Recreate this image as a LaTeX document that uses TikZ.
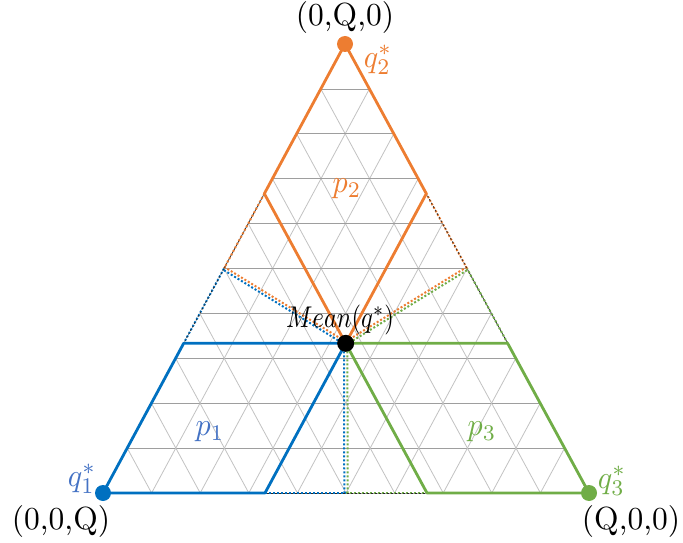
\documentclass[tikz,border=0pt]{standalone}
\usetikzlibrary{calc}
\definecolor{cor}{HTML}{ED7D31}
\definecolor{cbl}{HTML}{0070C0}
\definecolor{cbt}{HTML}{4472C4}
\definecolor{cgr}{HTML}{70AD47}
\tikzset{
  gridline/.style={draw=black!24, line width=0.8pt},
  hgridline/.style={draw=black!38, line width=0.8pt},
  region/.style={line width=2.8pt, line join=round},
  dotline/.style={line width=2pt, dash pattern=on 2pt off 2pt},
  edgedash/.style={draw=black!85, line width=0.7pt, dash pattern=on 2pt off 2pt, dash phase=2pt},
  vdot/.style={circle, inner sep=0pt, minimum size=16pt},
  bigtxt/.style={xscale=3.15, yscale=3.2, inner sep=0pt},
  lab/.style={xscale=3.0, yscale=3.2, inner sep=0pt},
  meanlab/.style={xscale=2.45, yscale=3.0, inner sep=0pt}
}
\begin{document}
\begin{tikzpicture}[x=1pt,y=1pt]
\useasboundingbox (0,0) rectangle (683,542);
\coordinate (A) at (103,49);
\coordinate (B) at (589,49);
\coordinate (C) at (345,498);
\coordinate (G) at (345.67,198.67);
\coordinate (P2L) at ($(C)!1/3!(A)$);
\coordinate (P2R) at ($(C)!1/3!(B)$);
\coordinate (P1L) at ($(A)!1/3!(C)$);
\coordinate (P1B) at ($(A)!1/3!(B)$);
\coordinate (P3B) at ($(B)!1/3!(A)$);
\coordinate (P3R) at ($(B)!1/3!(C)$);
\coordinate (MAC) at ($(A)!0.5!(C)$);
\coordinate (MAB) at ($(A)!0.5!(B)$);
\coordinate (MBC) at ($(B)!0.5!(C)$);
% grid
\foreach \k in {1,...,9} {
  \draw[hgridline] ($(A)!\k/10!(C)$) -- ($(B)!\k/10!(C)$);
  \draw[gridline] ($(A)!\k/10!(B)$) -- ($(C)!\k/10!(B)$);
  \draw[gridline] ($(B)!\k/10!(A)$) -- ($(C)!\k/10!(A)$);
}
\draw[hgridline] (A) -- (B);
% dotted boundaries inside
\draw[dotline, cor] ([yshift=1.7pt]MAC) -- ([yshift=1.7pt]G);
\draw[dotline, cbl] ([yshift=-1.7pt]MAC) -- ([yshift=-1.7pt]G);
\draw[dotline, cor] ([yshift=1.7pt]MBC) -- ([yshift=1.7pt]G);
\draw[dotline, cgr] ([yshift=-1.7pt]MBC) -- ([yshift=-1.7pt]G);
\draw[dotline, cbl] ([xshift=-1.7pt]G) -- ([xshift=-1.7pt]MAB);
\draw[dotline, cgr] ([xshift=1.7pt]G) -- ([xshift=1.7pt]MAB);
% dotted edges
\draw[dotline, cor] (P2L) -- (MAC);
\draw[dotline, cbl] (MAC) -- (P1L);
\draw[dotline, cbl] (P1B) -- (MAB);
\draw[dotline, cgr] (MAB) -- (P3B);
\draw[dotline, cgr] (P3R) -- (MBC);
\draw[dotline, cor] (MBC) -- (P2R);
\draw[edgedash] (P2L) -- (P1L);
\draw[edgedash] (P1B) -- (P3B);
\draw[edgedash] (P3R) -- (P2R);
% regions
\draw[region, cor] (C) -- (P2L) -- (G) -- (P2R) -- cycle;
\draw[region, cbl] (A) -- (P1L) -- (G) -- (P1B) -- cycle;
\draw[region, cgr] (B) -- (P3R) -- (G) -- (P3B) -- cycle;
% vertex dots
\node[vdot, fill=cor] (vC) at (C) {};
\node[vdot, fill=cbl] (vA) at (A) {};
\node[vdot, fill=cgr] (vB) at (B) {};
\node[vdot, fill=black, minimum size=17pt] (vG) at (G) {};
% labels
\node[bigtxt] (tC) at (345,524) {(0,Q,0)};
\node[bigtxt] (tA) at (61,21) {(0,0,Q)};
\node[bigtxt] (tB) at (631,21) {(Q,0,0)};
\node[lab, text=cor] (q2) at (378,482) {$q_2^*$};
\node[lab, text=cbt] (q1) at (82,63) {$q_1^*$};
\node[lab, text=cgr] (q3) at (612,61) {$q_3^*$};
\node[lab, text=cor] (p2) at (347,353) {$p_2$};
\node[lab, text=cbt] (p1) at (210,110) {$p_1$};
\node[lab, text=cgr] (p3) at (482,110) {$p_3$};
\node[meanlab] (mean) at (340,222) {$Mean(q^*)$};
\end{tikzpicture}
\end{document}
